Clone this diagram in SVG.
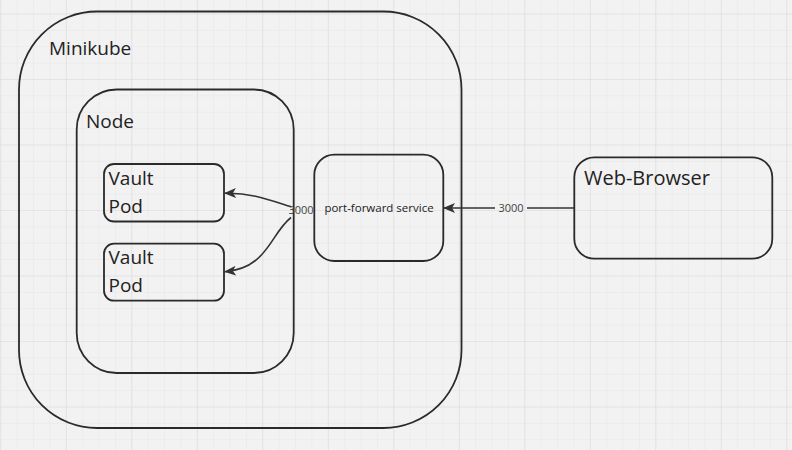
<svg xmlns="http://www.w3.org/2000/svg" width="792" height="450" viewBox="0 0 792 450">
<defs>
<pattern id="minor" x="0.3" y="13.5" width="16.375" height="16.375" patternUnits="userSpaceOnUse">
<path d="M0 0H16.375M0 0V16.375" fill="none" stroke="#e6e6e6" stroke-width="1"/>
</pattern>
<pattern id="major" x="0.3" y="13.5" width="65.5" height="65.5" patternUnits="userSpaceOnUse">
<path d="M0 0H65.5M0 0V65.5" fill="none" stroke="#dcdcdc" stroke-width="1.2"/>
</pattern>
<marker id="arr" viewBox="0 0 12 10" refX="11" refY="5" markerWidth="12" markerHeight="10" markerUnits="userSpaceOnUse" orient="auto">
<path d="M0 0L12 5L0 10L3 5Z" fill="#333"/>
</marker>
</defs>
<style>
.box{fill:none;stroke:#2a2a2a;stroke-width:1.8}
.t{font-family:"Open Sans","Noto Sans",sans-serif;fill:#222}
.conn{fill:none;stroke:#333;stroke-width:1.6}
.lbl{font-family:"Open Sans","Noto Sans",sans-serif;font-size:11px;fill:#444}
</style>
<rect width="792" height="450" fill="#f2f2f2"/>
<rect width="792" height="450" fill="url(#minor)"/>
<rect width="792" height="450" fill="url(#major)"/>

<g id="minikube">
<rect class="box" x="19" y="11.5" width="442.5" height="416.5" rx="78" ry="78"/>
<text class="t" x="49" y="55" font-size="19">Minikube</text>
</g>
<g id="node">
<rect class="box" x="76.7" y="89.5" width="217" height="283.5" rx="40" ry="40"/>
<text class="t" x="86" y="128" font-size="19">Node</text>
</g>
<g id="vault-pod-1">
<rect class="box" x="104" y="164" width="120" height="57.5" rx="10" ry="10"/>
<text class="t" x="108.5" y="185" font-size="19">Vault</text>
<text class="t" x="108.5" y="213" font-size="19">Pod</text>
</g>
<g id="vault-pod-2">
<rect class="box" x="104" y="243.7" width="120" height="57" rx="10" ry="10"/>
<text class="t" x="108.5" y="264" font-size="19">Vault</text>
<text class="t" x="108.5" y="292" font-size="19">Pod</text>
</g>
<g id="port-forward">
<rect class="box" x="314.3" y="154.7" width="129" height="106.3" rx="20" ry="20"/>
<text class="t" x="379" y="212" font-size="11.5" text-anchor="middle">port-forward service</text>
</g>
<g id="web-browser">
<rect class="box" x="574.3" y="157.3" width="198" height="101.4" rx="20" ry="20"/>
<text class="t" x="584" y="185" font-size="20">Web-Browser</text>
</g>

<g id="connectors">
<path class="conn" d="M574.3 208H527"/>
<path class="conn" d="M495 208H444" marker-end="url(#arr)"/>
<text class="lbl" x="511" y="212" text-anchor="middle">3000</text>
<path class="conn" d="M291.5 207C272 201 252 192.5 225 193.3" marker-end="url(#arr)"/>
<path class="conn" d="M291 217.5C270 234 268 268 225 271.7" marker-end="url(#arr)"/>
<text class="lbl" x="301" y="214" text-anchor="middle">3000</text>
</g>
</svg>
